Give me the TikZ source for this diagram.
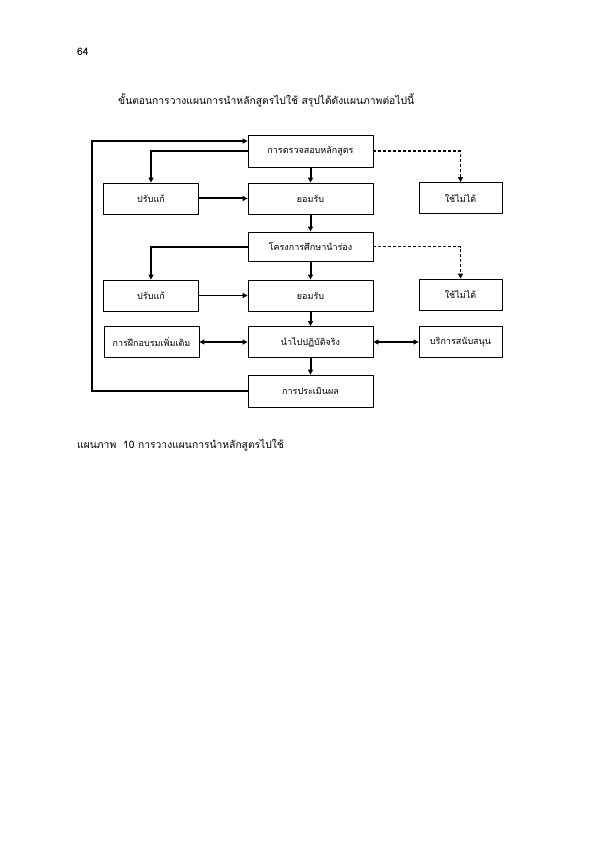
\documentclass[tikz,border=0pt]{standalone}
\usepackage{fontspec}
\newfontfamily\thaifont[Script=Thai]{Loma}
\usetikzlibrary{arrows.meta}
\begin{document}
\begin{tikzpicture}[x=1pt,y=-1pt,
  box/.style={draw,line width=0.8pt,minimum height=31pt,inner sep=0pt,font=\thaifont\fontsize{9}{11}\selectfont},
  cbox/.style={box,minimum width=125pt},
  lbox/.style={box,minimum width=95pt},
  rbox/.style={box,minimum width=83pt},
  tip/.style={Triangle[length=5pt,width=5pt]},
  conn/.style={line width=2pt,-{Triangle[length=5pt,width=5pt]}},
  dbl conn/.style={line width=2pt,{Triangle[length=5pt,width=5pt]}-{Triangle[length=5pt,width=5pt]}},
  thin conn/.style={line width=0.9pt,-{Triangle[length=5pt,width=5pt]}},
  dconn/.style={line width=1.2pt,dashed,dash pattern=on 3pt off 2pt,-{Triangle[length=5pt,width=5pt]}},
  txt/.style={inner sep=0pt,font=\thaifont\fontsize{10.3}{12}\selectfont}]
\useasboundingbox (0,0) rectangle (595,842);
\fill[white] (0,0) rectangle (595,842);
\node[txt,anchor=west] (pg) at (77,52) {64};
\node[txt,anchor=west] (title) at (118,100) {ขั้นตอนการวางแผนการนำหลักสูตรไปใช้ สรุปได้ดังแผนภาพต่อไปนี้};
\node[cbox,minimum height=32pt] (chk) at (310.5,151) {การตรวจสอบหลักสูตร};
\node[lbox] (fix1) at (151,198.5) {ปรับแก้};
\node[cbox] (acc1) at (310.5,198.5) {ยอมรับ};
\node[rbox] (bad1) at (460.5,198) {ใช้ไม่ได้};
\node[cbox,minimum height=29pt] (pilot) at (310.5,246.5) {โครงการศึกษานำร่อง};
\node[lbox] (fix2) at (151,295.5) {ปรับแก้};
\node[cbox] (acc2) at (310.5,295.5) {ยอมรับ};
\node[rbox] (bad2) at (460.5,294.5) {ใช้ไม่ได้};
\node[lbox] (train) at (151.5,342) {การฝึกอบรมเพิ่มเติม};
\node[cbox] (impl) at (310.5,342) {นำไปปฏิบัติจริง};
\node[rbox] (supp) at (460.5,342) {บริการสนับสนุน};
\node[cbox,minimum height=32pt] (eval) at (310.5,391) {การประเมินผล};
\node[txt,anchor=west] (cap) at (77,445) {แผนภาพ\ \ 10 การวางแผนการนำหลักสูตรไปใช้};
% loop
\coordinate (lb) at (92,391);
\coordinate (lt) at (92,141);
\draw[conn] (eval.west) -- (lb) -- (lt) -- (chk.west |- lt);
% from check
\draw[conn] (chk.west) -| (fix1.north);
\draw[conn] (chk.south) -- (acc1.north);
\draw[dconn] (chk.east) -| (bad1.north);
\draw[conn] (fix1.east) -- (acc1.west);
\draw[conn] (acc1.south) -- (pilot.north);
% from pilot
\draw[conn] (pilot.west) -| (fix2.north);
\draw[conn] (pilot.south) -- (acc2.north);
\draw[dconn] (pilot.east) -| (bad2.north);
\draw[thin conn] (fix2.east) -- (acc2.west);
\draw[conn] (acc2.south) -- (impl.north);
\draw[dbl conn] (train.east) -- (impl.west);
\draw[dbl conn] (impl.east) -- (supp.west);
\draw[conn] (impl.south) -- (eval.north);
\end{tikzpicture}
\end{document}
